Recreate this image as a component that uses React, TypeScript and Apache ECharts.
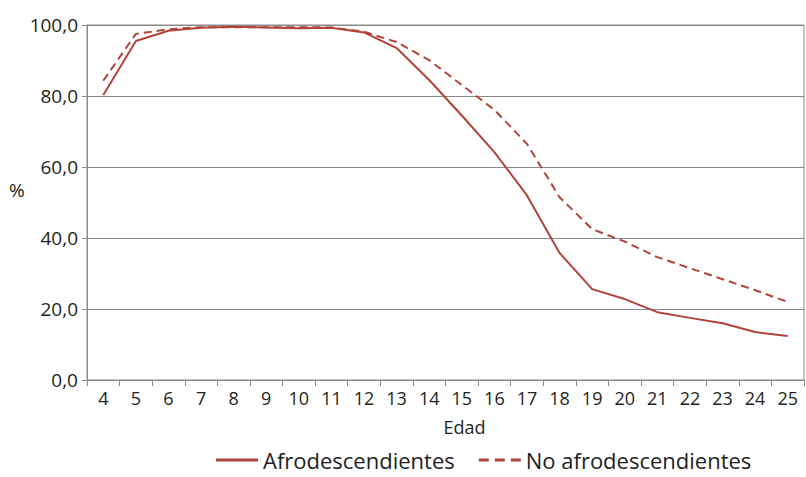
import React, { useEffect, useRef } from "react";
import * as echarts from "echarts";

const categories = ["4","5","6","7","8","9","10","11","12","13","14","15","16","17","18","19","20","21","22","23","24","25"];
const afro = [80.3, 95.5, 98.4, 99.2, 99.5, 99.3, 99.1, 99.2, 97.9, 93.5, 84.5, 74.5, 64.2, 52.0, 35.8, 25.6, 22.8, 19.1, 17.5, 16.0, 13.5, 12.4];
const noAfro = [84.3, 97.5, 98.8, 99.4, 99.4, 99.4, 99.4, 99.3, 98.1, 95.2, 90.1, 83.1, 76.1, 66.5, 51.5, 42.5, 39.0, 34.6, 31.5, 28.4, 25.3, 22.0];
const seriesNames = ["Afrodescendientes", "No afrodescendientes"];
const yTicks = [0, 20, 40, 60, 80, 100];

const COLOR = "#b0443a";
const FONT = "Open Sans";
const SOLID_ICON = "path://M0,0h42v3h-42z";
const DASH_ICON = "path://M0,0h10v3h-10z M16,0h10v3h-10z M32,0h10v3h-10z";

export default function App() {
  const ref = useRef<HTMLDivElement>(null);
  useEffect(() => {
    if (!ref.current) return;
    const chart = echarts.init(ref.current, null, { renderer: "svg" });
    chart.setOption({
      animation: false,
      backgroundColor: "#ffffff",
      textStyle: { fontFamily: FONT, color: "#231f20" },
      grid: { left: 87, right: 2, top: 25, bottom: 97, show: true, borderColor: "#8a8a8a", borderWidth: 1 },
      graphic: [
        { type: "text", left: 9, top: 180, style: { text: "%", font: `19px '${FONT}'`, fill: "#231f20" } },
      ],
      legend: {
        left: 216,
        top: 449,
        padding: 0,
        itemWidth: 42,
        itemHeight: 3,
        itemGap: 24,
        textStyle: { fontSize: 22, color: "#231f20", fontFamily: FONT },
        data: [
          { name: seriesNames[0], icon: SOLID_ICON },
          { name: seriesNames[1], icon: DASH_ICON },
        ],
      },
      xAxis: {
        type: "category",
        data: categories,
        boundaryGap: true,
        name: "Edad",
        nameLocation: "middle",
        nameGap: 38,
        nameTextStyle: { fontSize: 18, color: "#231f20", padding: [0, 0, 0, 38] },
        axisLine: { lineStyle: { color: "#8a8a8a" } },
        axisTick: { show: true, length: 6, lineStyle: { color: "#8a8a8a" } },
        axisLabel: { fontSize: 18, color: "#231f20", margin: 9, interval: 0 },
      },
      yAxis: {
        type: "value",
        min: 0,
        max: 100,
        interval: 20,
        axisLine: { show: true, lineStyle: { color: "#8a8a8a" } },
        axisTick: { show: true, length: 5, lineStyle: { color: "#8a8a8a" } },
        splitLine: { show: true, lineStyle: { color: "#8a8a8a", width: 1 } },
        axisLabel: {
          fontSize: 19,
          color: "#231f20",
          margin: 9,
          formatter: (v: number) => (yTicks.includes(v) ? v.toFixed(1).replace(".", ",") : ""),
        },
      },
      series: [
        {
          name: seriesNames[0],
          type: "line",
          data: afro,
          symbol: "none",
          color: COLOR,
          lineStyle: { color: COLOR, width: 2 },
        },
        {
          name: seriesNames[1],
          type: "line",
          data: noAfro,
          symbol: "none",
          color: COLOR,
          lineStyle: { color: COLOR, width: 2, type: [8, 5] },
        },
      ],
    });
    return () => chart.dispose();
  }, []);
  return <div ref={ref} style={{ width: 806, height: 477, position: "absolute", left: 0, top: 0 }} />;
}
